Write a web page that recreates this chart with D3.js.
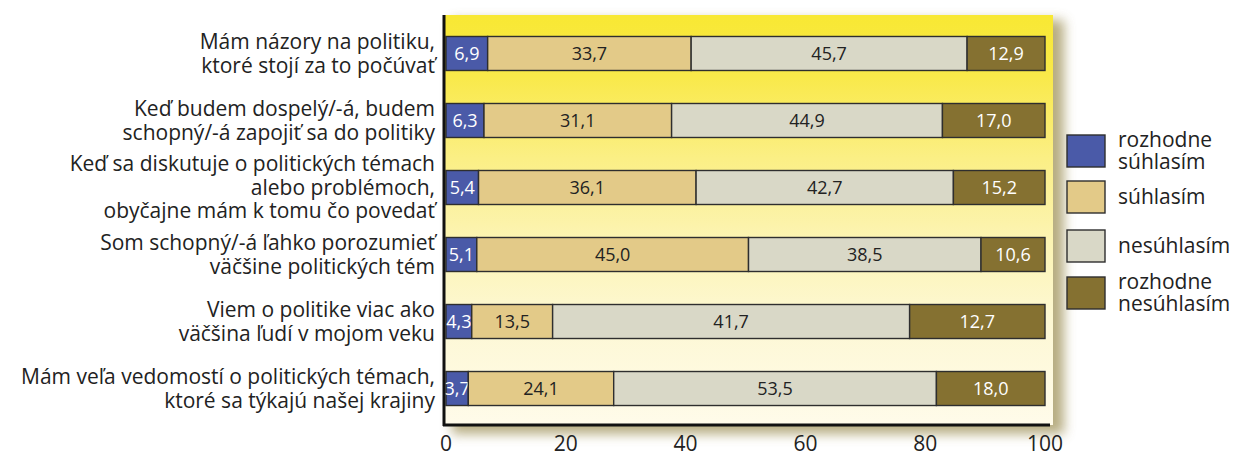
<!doctype html>
<meta charset="utf-8">
<script src="https://d3js.org/d3.v7.min.js"></script>
<style>
  body { margin: 0; background: #fff; }
  text { font-family: "Open Sans", sans-serif; }
</style>
<body>
</body>
<script>

// ---- data ----
var categories = [
  ["Mám názory na politiku,", "ktoré stojí za to počúvať"],
  ["Keď budem dospelý/-á, budem", "schopný/-á zapojiť sa do politiky"],
  ["Keď sa diskutuje o politických témach", "alebo problémoch,", "obyčajne mám k tomu čo povedať"],
  ["Som schopný/-á ľahko porozumieť", "väčšine politických tém"],
  ["Viem o politike viac ako", "väčšina ľudí v mojom veku"],
  ["Mám veľa vedomostí o politických témach,", "ktoré sa týkajú našej krajiny"]
];
var seriesNames = [["rozhodne", "súhlasím"], ["súhlasím"], ["nesúhlasím"], ["rozhodne", "nesúhlasím"]];

// bar lengths as drawn (row 5 is drawn longer than its printed numbers)
var strongAgree    = [6.9, 6.3, 5.4, 5.1, 4.3, 3.7];
var agree          = [33.7, 31.1, 36.1, 45.0, 13.5, 24.1];
var disagree       = [45.7, 44.9, 42.7, 38.5, 59.6, 53.5];
var strongDisagree = [12.9, 17.0, 15.2, 10.6, 22.6, 18.0];

// numbers printed on the bars
var lblStrongAgree    = ["6,9", "6,3", "5,4", "5,1", "4,3", "3,7"];
var lblAgree          = ["33,7", "31,1", "36,1", "45,0", "13,5", "24,1"];
var lblDisagree       = ["45,7", "44,9", "42,7", "38,5", "41,7", "53,5"];
var lblStrongDisagree = ["12,9", "17,0", "15,2", "10,6", "12,7", "18,0"];

var xTicks = [0, 20, 40, 60, 80, 100];

var colors = ["#4a5aa8", "#e3ca88", "#d9d8c7", "#857131"];
var textColors = ["#fff", "#222", "#222", "#fff"];

// ---- chart ----
var svg = d3.select("body").append("svg").attr("width", 1235).attr("height", 455);

var x = d3.scaleLinear().domain([0, 100]).range([446, 1045]);
var y = d3.scaleBand().domain(d3.range(categories.length)).range([20, 422])
  .paddingInner(0.4925).paddingOuter(0.246);

var keys = ["sa", "a", "d", "sd"];
var labelArrays = [lblStrongAgree, lblAgree, lblDisagree, lblStrongDisagree];
var rows = categories.map(function(c, i) {
  return {i: i, sa: strongAgree[i], a: agree[i], d: disagree[i], sd: strongDisagree[i]};
});
var stacked = d3.stack().keys(keys).offset(d3.stackOffsetExpand)(rows);

var defs = svg.append("defs");
var grad = defs.append("linearGradient").attr("id", "bg")
  .attr("x1", 0).attr("y1", 0).attr("x2", 0).attr("y2", 1);
[[0, "#f8e833"], [0.15, "#f9e94a"], [0.35, "#fbef85"], [0.55, "#fcf4b3"], [0.75, "#fdf8d4"], [1, "#fffbea"]]
  .forEach(function(s) { grad.append("stop").attr("offset", s[0]).attr("stop-color", s[1]); });
defs.append("filter").attr("id", "blur").attr("x", "-20%").attr("y", "-20%").attr("width", "140%").attr("height", "140%")
  .append("feGaussianBlur").attr("stdDeviation", 6);

// shadow + plot background
svg.append("rect").attr("x", 452).attr("y", 20).attr("width", 612).attr("height", 414)
  .attr("fill", "#a59862").attr("opacity", 0.8).attr("filter", "url(#blur)");
svg.append("rect").attr("x", 444).attr("y", 15).attr("width", 609).attr("height", 410)
  .attr("fill", "url(#bg)");

// bars
var layer = svg.append("g").selectAll("g").data(stacked).enter().append("g")
  .attr("fill", function(d, k) { return colors[k]; });

layer.selectAll("rect").data(function(d) { return d; }).enter().append("rect")
  .attr("x", function(d) { return x(d[0] * 100); })
  .attr("width", function(d) { return x(d[1] * 100) - x(d[0] * 100); })
  .attr("y", function(d, i) { return y(i); })
  .attr("height", y.bandwidth())
  .attr("stroke", "#2e2e2e").attr("stroke-width", 1.4);

layer.selectAll("text").data(function(d, k) { return d.map(function(p, i) { return {p: p, k: k, i: i}; }); })
  .enter().append("text")
  .attr("x", function(d) { return x((d.p[0] + d.p[1]) / 2 * 100); })
  .attr("y", function(d) { return y(d.i) + y.bandwidth() / 2 + 6.5; })
  .attr("text-anchor", "middle")
  .attr("font-size", 18)
  .attr("fill", function(d) { return textColors[d.k]; })
  .text(function(d) { return labelArrays[d.k][d.i]; });

// axis lines
svg.append("line").attr("x1", 444).attr("x2", 444).attr("y1", 15).attr("y2", 426)
  .attr("stroke", "#111").attr("stroke-width", 3);
svg.append("line").attr("x1", 443).attr("x2", 1050).attr("y1", 425).attr("y2", 425)
  .attr("stroke", "#111").attr("stroke-width", 3);

// x tick labels
svg.append("g").selectAll("text").data(xTicks).enter().append("text")
  .attr("x", function(d) { return x(d); })
  .attr("y", 451)
  .attr("text-anchor", "middle")
  .attr("font-size", 21)
  .attr("fill", "#222")
  .text(function(d) { return d; });

// category labels
var cat = svg.append("g").selectAll("text").data(categories).enter().append("text")
  .attr("text-anchor", "end")
  .attr("font-size", 21)
  .attr("fill", "#222");
cat.selectAll("tspan").data(function(d, i) {
    return d.map(function(line, j) { return {line: line, j: j, n: d.length, i: i}; });
  }).enter().append("tspan")
  .attr("x", 435)
  .attr("y", function(d) { return y(d.i) + y.bandwidth() / 2 + 7.5 + (d.j - (d.n - 1) / 2) * 23.5; })
  .text(function(d) { return d.line; });

// legend
var legY = [135, 181, 230, 277];
var leg = svg.append("g").selectAll("g").data(seriesNames).enter().append("g");
leg.append("rect")
  .attr("x", 1067).attr("y", function(d, k) { return legY[k]; })
  .attr("width", 38).attr("height", 32)
  .attr("fill", function(d, k) { return colors[k]; })
  .attr("stroke", "#2e2e2e").attr("stroke-width", 1.4);
leg.append("text")
  .attr("font-size", 21).attr("fill", "#222")
  .selectAll("tspan").data(function(d, k) { return d.map(function(l, j) { return {l: l, j: j, n: d.length, k: k}; }); })
  .enter().append("tspan")
  .attr("x", 1118)
  .attr("y", function(d) { return legY[d.k] + 16 + 7 + (d.j - (d.n - 1) / 2) * 22; })
  .text(function(d) { return d.l; });

</script>
